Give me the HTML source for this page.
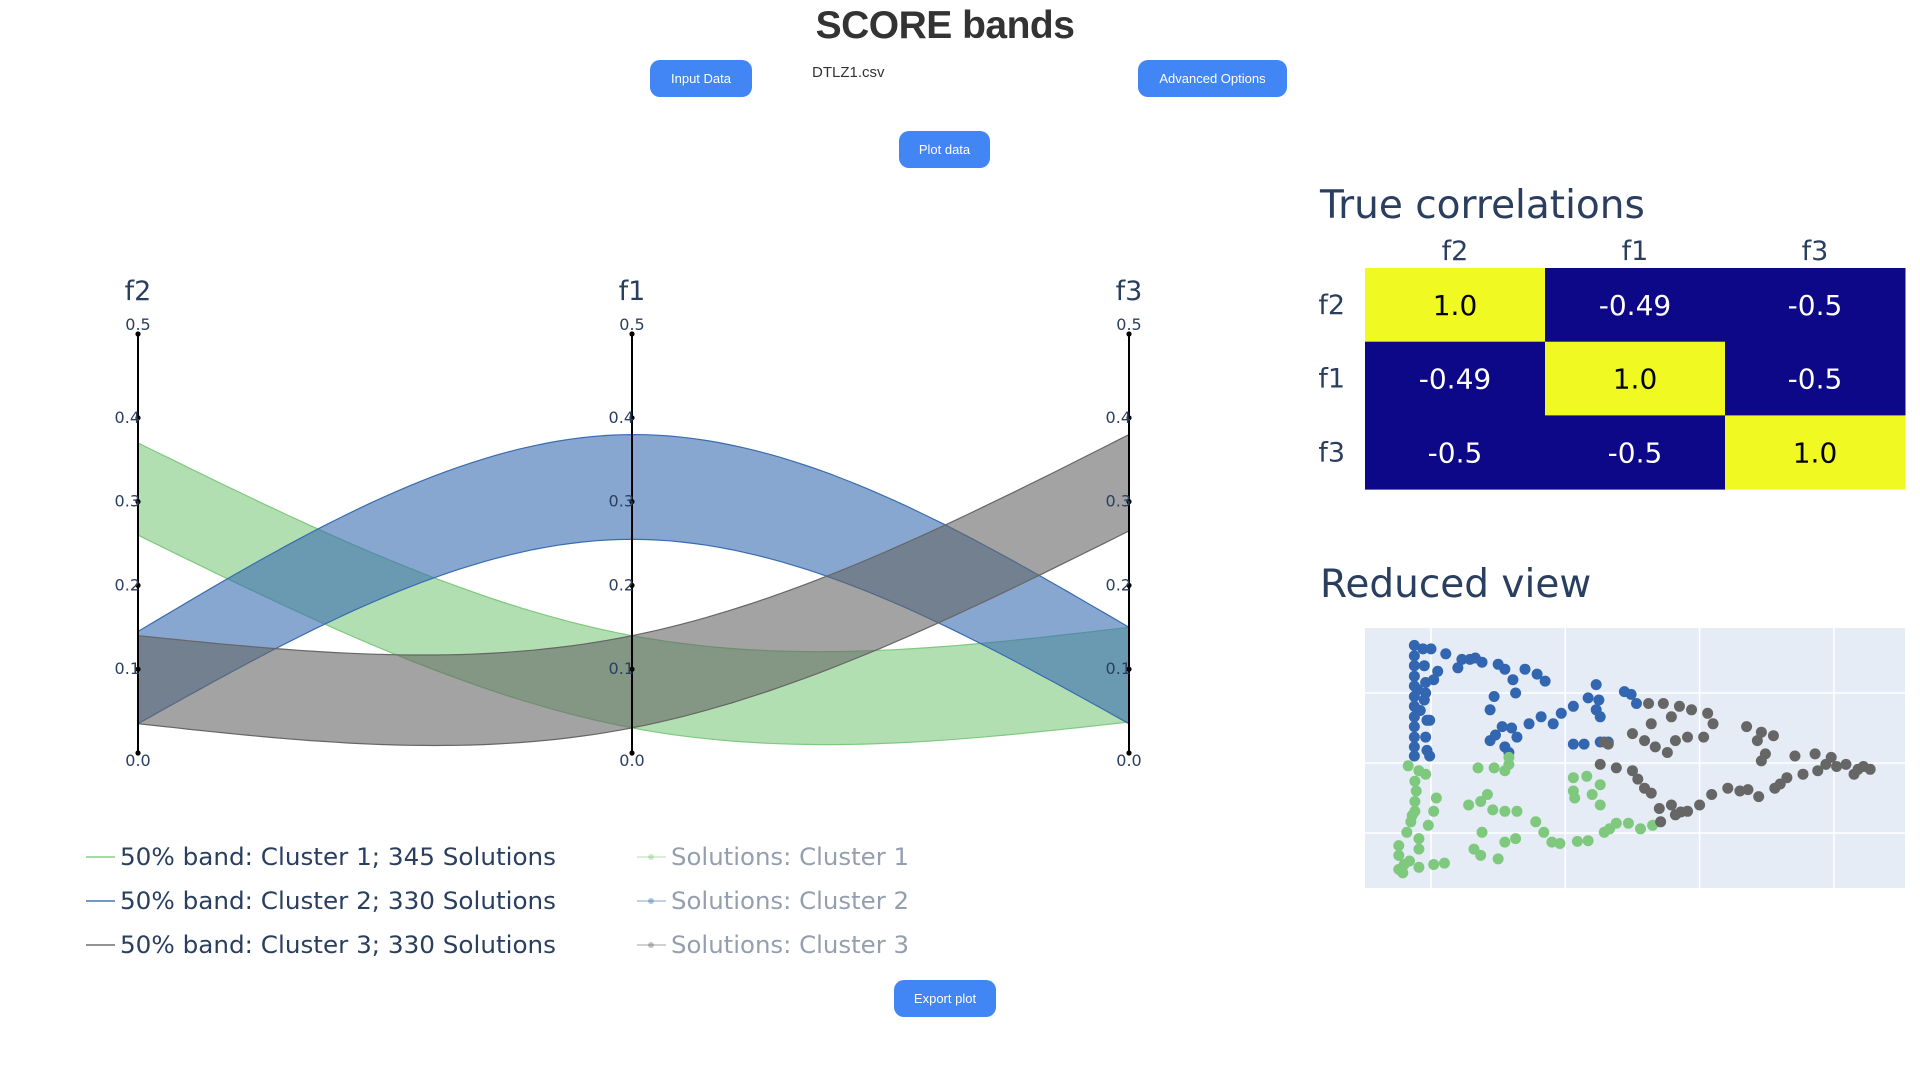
<!DOCTYPE html>
<html><head><meta charset="utf-8"><title>SCORE bands</title>
<style>
html,body{margin:0;padding:0;background:#fff;width:1920px;height:1080px;overflow:hidden;font-family:"Liberation Sans",sans-serif;}
.btn{position:absolute;background:#4285f4;color:#fff;border-radius:10px;font-size:13px;display:flex;align-items:center;justify-content:center;cursor:pointer;}
</style></head>
<body>
<div style="position:absolute;left:0;width:1890px;top:4px;text-align:center;font-size:39px;font-weight:bold;color:#333;letter-spacing:-0.5px;">SCORE bands</div>
<div class="btn" style="left:650px;top:60px;width:102px;height:37px;">Input Data</div>
<div style="position:absolute;left:812px;top:64px;font-size:15px;color:#333;">DTLZ1.csv</div>
<div class="btn" style="left:1138px;top:60px;width:149px;height:37px;">Advanced Options</div>
<div class="btn" style="left:899px;top:131px;width:91px;height:37px;">Plot data</div>
<div class="btn" style="left:894px;top:980px;width:102px;height:37px;">Export plot</div>

<svg id="chart" width="1920" height="1080" style="position:absolute;left:0;top:0;pointer-events:none;" xmlns="http://www.w3.org/2000/svg"></svg>

<script>
const axisNames = ["f2","f1","f3"];
const tickValues = [0,0.1,0.2,0.3,0.4,0.5];
const bandUpper1 = [0.37,0.14,0.15];
const bandLower1 = [0.26,0.03,0.037];
const bandUpper2 = [0.145,0.38,0.15];
const bandLower2 = [0.035,0.255,0.035];
const bandUpper3 = [0.14,0.14,0.38];
const bandLower3 = [0.035,0.03,0.265];
const legendLabels = ["50% band: Cluster 1; 345 Solutions","50% band: Cluster 2; 330 Solutions","50% band: Cluster 3; 330 Solutions"];
const solLabels = ["Solutions: Cluster 1","Solutions: Cluster 2","Solutions: Cluster 3"];
const corrLabels = ["f2","f1","f3"];
const corrValues = [[1.0,-0.49,-0.5],[-0.49,1.0,-0.5],[-0.5,-0.5,1.0]];
const corrText = [["1.0","-0.49","-0.5"],["-0.49","1.0","-0.5"],["-0.5","-0.5","1.0"]];
const scatterBlue = [[0.876,3.68],[0.876,3.53],[0.876,3.39],[0.876,3.24],[0.876,3.10],[0.876,2.95],[0.876,2.81],[0.876,2.66],[0.876,2.52],[0.876,2.37],[0.876,2.23],[0.876,2.10],[0.94,3.63],[0.95,3.39],[0.96,3.15],[0.95,2.90],[0.97,2.61],[0.96,2.37],[0.97,2.18],[0.99,2.10],[1.0,3.63],[1.11,3.56],[1.23,3.48],[1.29,3.48],[1.20,3.36],[1.38,3.44],[1.50,3.41],[1.55,3.34],[1.70,3.34],[1.79,3.27],[1.85,3.17],[1.61,3.19],[1.63,3.00],[1.47,2.95],[1.44,2.76],[1.53,2.52],[1.44,2.32],[1.55,2.23],[1.64,2.37],[1.73,2.56],[1.82,2.66],[1.91,2.56],[1.97,2.71],[2.06,2.81],[1.05,3.31],[1.02,3.19],[0.96,3.00],[0.99,2.61],[2.23,3.12],[2.25,2.90],[2.23,2.76],[2.26,2.66],[2.17,2.93],[2.06,2.27],[2.14,2.27],[2.26,2.30],[2.32,2.30],[2.44,3.02],[2.49,2.98],[2.53,2.85],[1.33,3.50],[1.60,2.50],[1.58,2.15],[1.48,2.40],[0.90,3.05],[0.92,2.75]];
const scatterGreen = [[0.83,1.96],[0.91,1.89],[0.96,1.84],[0.88,1.74],[0.89,1.60],[0.88,1.45],[0.88,1.31],[0.85,1.16],[0.82,1.01],[0.91,0.92],[0.91,0.77],[0.76,0.82],[0.76,0.68],[0.76,0.48],[0.79,0.43],[0.91,0.51],[1.02,0.55],[1.10,0.57],[1.04,1.50],[1.02,1.31],[0.98,1.11],[1.35,1.93],[1.47,1.93],[1.55,1.89],[1.58,2.08],[1.28,1.40],[1.37,1.45],[1.42,1.55],[1.46,1.33],[1.55,1.31],[1.64,1.31],[1.78,1.16],[1.84,1.01],[1.90,0.87],[1.96,0.85],[2.09,0.88],[2.17,0.89],[2.29,1.01],[2.38,1.14],[2.47,1.14],[2.56,1.06],[2.65,1.11],[1.38,1.01],[1.32,0.77],[1.37,0.68],[1.50,0.63],[1.55,0.87],[1.63,0.92],[2.06,1.79],[2.06,1.60],[2.07,1.50],[2.16,1.81],[2.20,1.55],[2.26,1.69],[2.26,1.40],[0.86,1.25],[0.84,0.60],[0.80,0.55],[1.58,1.98],[2.33,1.06]];
const scatterGray = [[2.26,1.98],[2.38,1.93],[2.50,1.89],[2.54,1.77],[2.59,1.64],[2.64,1.57],[2.70,1.35],[2.79,1.40],[2.82,1.26],[2.91,1.31],[3.00,1.40],[3.09,1.55],[3.21,1.64],[3.36,1.62],[3.44,1.52],[3.56,1.64],[3.65,1.79],[3.77,1.84],[3.88,1.89],[3.94,1.98],[3.71,2.10],[3.86,2.13],[3.98,2.08],[4.09,1.98],[4.18,1.91],[4.27,1.91],[4.15,1.84],[2.71,1.16],[2.62,2.85],[2.73,2.85],[2.85,2.81],[2.94,2.76],[3.06,2.71],[3.10,2.56],[3.03,2.37],[2.91,2.37],[2.82,2.32],[2.79,2.66],[2.50,2.42],[2.59,2.32],[2.67,2.23],[2.76,2.15],[2.64,2.56],[3.35,2.52],[3.46,2.44],[3.55,2.39],[3.43,2.32],[3.49,2.13],[3.46,2.03],[2.32,2.27],[2.29,2.30],[2.86,1.30],[3.30,1.60],[3.60,1.70],[4.22,1.95],[4.02,1.95]];

const NS="http://www.w3.org/2000/svg";
const svg=document.getElementById('chart');
function mk(tag,attrs,parent){const e=document.createElementNS(NS,tag);for(const k in attrs)e.setAttribute(k,attrs[k]);(parent||svg).appendChild(e);return e;}
function txt(s,attrs,parent){const e=mk('text',attrs,parent);e.textContent=s;return e;}

const axisX=[138,632,1129];
const yTop=334,yBot=753;
function yScale(v){return yBot-(v/0.5)*(yBot-yTop);}
function spline(vals,t){
  const M1=1.5*(vals[0]-2*vals[1]+vals[2]);
  if(t<=1){return vals[0]*(1-t)+vals[1]*t+(M1/6)*(t*t*t-t);}
  const s=t-1,u=1-s;return vals[1]*u+vals[2]*s+(M1/6)*(u*u*u-u);
}
function curvePts(vals){const p=[];for(let i=0;i<=80;i++){const t=i/40;const x=t<=1?axisX[0]+(axisX[1]-axisX[0])*t:axisX[1]+(axisX[2]-axisX[1])*(t-1);p.push([x,yScale(spline(vals,t))]);}return p;}
const bands=[[bandUpper1,bandLower1,'rgba(127,201,127,0.6)','rgb(127,201,127)'],[bandUpper2,bandLower2,'rgba(56,108,176,0.6)','rgb(56,108,176)'],[bandUpper3,bandLower3,'rgba(102,102,102,0.6)','rgb(102,102,102)']];
bands.forEach((b,i)=>{
  const up=curvePts(b[0]),lo=curvePts(b[1]).reverse();
  const d='M'+up.map(p=>p[0].toFixed(1)+','+p[1].toFixed(1)).join('L')+'L'+lo.map(p=>p[0].toFixed(1)+','+p[1].toFixed(1)).join('L')+'Z';
  const el=mk('path',{d:d,fill:b[2],stroke:b[3],'stroke-width':1.2});
  
  
});
axisNames.forEach((n,i)=>{
  const x=axisX[i];
  const l=mk('line',{x1:x,x2:x,y1:yTop,y2:yBot,stroke:'#000','stroke-width':2});
  
  
  const t=txt(n,{x:x,y:300,'text-anchor':'middle','font-size':27,fill:'#2a3f5f','font-family':'DejaVu Sans, sans-serif'});
  
  
  tickValues.forEach(v=>{
    const y=yScale(v);
    mk('circle',{cx:x,cy:y,r:2.6,fill:'#000'});
    let tt;
    if(v===0.5) tt=txt(v.toFixed(1),{x:x,y:y-4,'text-anchor':'middle','font-size':16,fill:'#2a3f5f','font-family':'DejaVu Sans, sans-serif'});
    else if(v===0) tt=txt(v.toFixed(1),{x:x,y:y+13,'text-anchor':'middle','font-size':16,fill:'#2a3f5f','font-family':'DejaVu Sans, sans-serif'});
    else tt=txt(v.toFixed(1),{x:x+2,y:y+5,'text-anchor':'end','font-size':16,fill:'#2a3f5f','font-family':'DejaVu Sans, sans-serif'});
    
    
  });
});
const legC=['rgb(127,201,127)','rgb(56,108,176)','rgb(102,102,102)'];
legendLabels.forEach((s,i)=>{
  const y=857+i*44;
  mk('line',{x1:86,x2:115,y1:y,y2:y,stroke:legC[i],'stroke-width':2,opacity:0.7});
  const t=txt(s,{x:120,y:y+8,'font-size':24,fill:'#2a3f5f','font-family':'DejaVu Sans Condensed, DejaVu Sans, sans-serif',textLength:436,lengthAdjust:'spacingAndGlyphs'});
  
  
  mk('line',{x1:637,x2:666,y1:y,y2:y,stroke:legC[i],'stroke-width':2,opacity:0.3});
  mk('circle',{cx:651,cy:y,r:3,fill:legC[i],opacity:0.4});
  const t2=txt(solLabels[i],{x:671,y:y+8,'font-size':24,fill:'#2a3f5f',opacity:0.5,'font-family':'DejaVu Sans Condensed, DejaVu Sans, sans-serif',textLength:238,lengthAdjust:'spacingAndGlyphs'});
  
  
});

const hmT=txt('True correlations',{x:1320,y:218,'font-size':39,fill:'#2a3f5f','font-family':'DejaVu Sans, sans-serif'});


const hx0=1365,hy0=268,cw=180,ch=73.7;
corrLabels.forEach((n,i)=>{
  const c=txt(n,{x:hx0+cw*i+cw/2,y:260,'text-anchor':'middle','font-size':27,fill:'#2a3f5f','font-family':'DejaVu Sans, sans-serif'});
  
  
  const r=txt(n,{x:1345,y:hy0+ch*i+ch/2+9,'text-anchor':'end','font-size':27,fill:'#2a3f5f','font-family':'DejaVu Sans, sans-serif'});
  
  
});
corrValues.forEach((row,i)=>row.forEach((v,j)=>{
  const col=v>0.5?'#f0f921':'#0d0887';
  const rc=mk('rect',{x:hx0+cw*j,y:hy0+ch*i,width:cw+0.5,height:ch+0.5,fill:col});
  
  
  const t=txt(corrText[i][j],{x:hx0+cw*j+cw/2,y:hy0+ch*i+ch/2+10,'text-anchor':'middle','font-size':28,fill:v>0.5?'#000':'#fff','font-family':'DejaVu Sans, sans-serif'});
  
  
}));

const rvT=txt('Reduced view',{x:1320,y:597,'font-size':39,fill:'#2a3f5f','font-family':'DejaVu Sans, sans-serif'});


const sx0=1365,sx1=1905,sy0=628,sy1=888;
const bg=mk('rect',{x:sx0,y:sy0,width:sx1-sx0,height:sy1-sy0,fill:'#e5ecf6'});


function sX(v){return 1431+(v-1)*134.3;}
function sY(v){return 833-(v-1)*70;}
[1,2,3,4].forEach(g=>{mk('line',{x1:sX(g),x2:sX(g),y1:sy0,y2:sy1,stroke:'#fff','stroke-width':1.5});});
[1,2,3].forEach(g=>{mk('line',{x1:sx0,x2:sx1,y1:sY(g),y2:sY(g),stroke:'#fff','stroke-width':1.5});});
[[scatterBlue,'#3366b0'],[scatterGreen,'#7fc97f'],[scatterGray,'#666666']].forEach((s,k)=>{
  s[0].forEach(p=>{
    const c=mk('circle',{cx:sX(p[0]),cy:sY(p[1]),r:5.5,fill:s[1]});
    
    
  });
});
</script>
</body></html>
